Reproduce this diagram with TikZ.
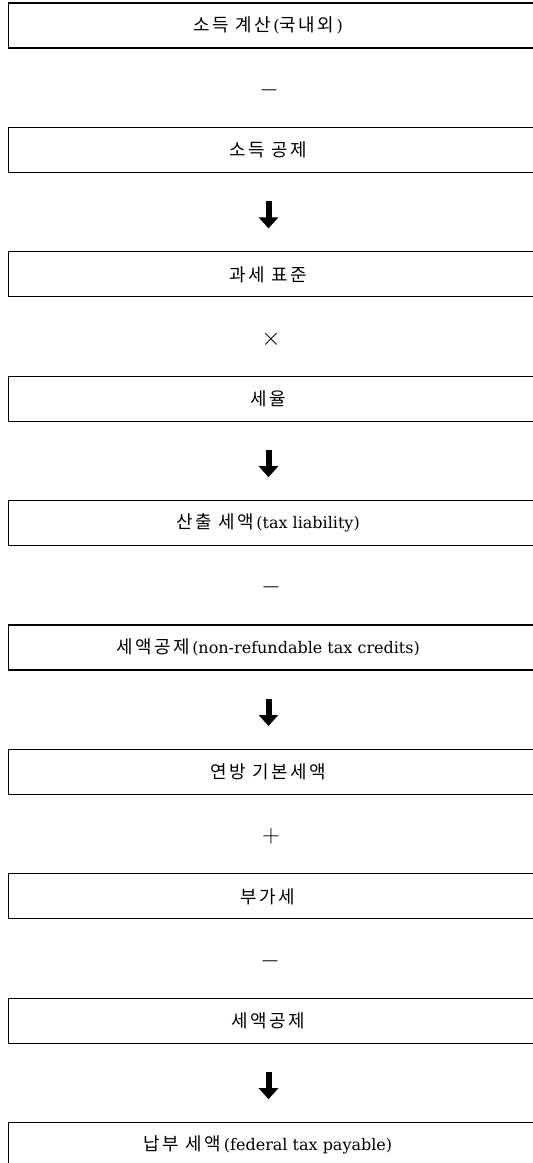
\documentclass[tikz,border=0pt]{standalone}
\usepackage{fontspec}
\setmainfont{DejaVu Serif}
\newfontfamily\krfont[LetterSpace=14,Scale=1.12]{Noto Sans CJK KR}
\newcommand\hg[1]{{\krfont #1}}
\usetikzlibrary{arrows.meta}
\begin{document}
\begin{tikzpicture}[x=1pt,y=-1pt,
  boxtext/.style={minimum width=518pt, minimum height=45pt, inner sep=0pt,
    font=\fontsize{16}{18}\selectfont},
  frame/.style={line width=1.3pt},
  opsym/.style={inner sep=0pt, font=\fontsize{25}{25}\selectfont},
  bigarrow/.style={line width=6pt, -{Triangle[width=19pt,length=11pt]}}]
\useasboundingbox (0,0) rectangle (533,1163);
\clip (0,0) rectangle (533,1163);
\fill[white] (0,0) rectangle (533,1163);

\foreach \i/\txt in {
  0/{\hg{소득 계산}\,(\hg{국내외}\,)},
  1/{\hg{소득 공제}},
  2/{\hg{과세 표준}},
  3/{\hg{세율}},
  4/{\hg{산출 세액}\,(tax liability)},
  5/{\hg{세액공제}\,(non-refundable tax credits)},
  6/{\hg{연방 기본세액}},
  7/{\hg{부가세}},
  8/{\hg{세액공제}},
  9/{\hg{납부 세액}\,(federal tax payable)}}{
  \node[boxtext] (b\i) at (268, 3+124.4*\i+22.5) {\txt};
  \draw[frame] (540, 3+124.4*\i) -- (8.5, 3+124.4*\i) -- (8.5, 3+124.4*\i+45) -- (540, 3+124.4*\i+45);
}

% operators
\node[opsym] (op0) at (269, 3+87) {$-$};
\node[opsym] (op2) at (271, 3+124.4*2+87) {$\times$};
\node[opsym] (op4) at (271, 3+124.4*4+87) {$-$};
\node[opsym] (op6) at (271, 3+124.4*6+87) {$+$};
\node[opsym] (op7) at (270, 3+124.4*7+87) {$-$};

% arrows
\foreach \i in {1,3,5,8}{
  \coordinate (as\i) at (268.5, 3+124.4*\i+74);
  \coordinate (ae\i) at (268.5, 3+124.4*\i+101);
  \draw[bigarrow] (as\i) -- (ae\i);
}
\end{tikzpicture}
\end{document}
